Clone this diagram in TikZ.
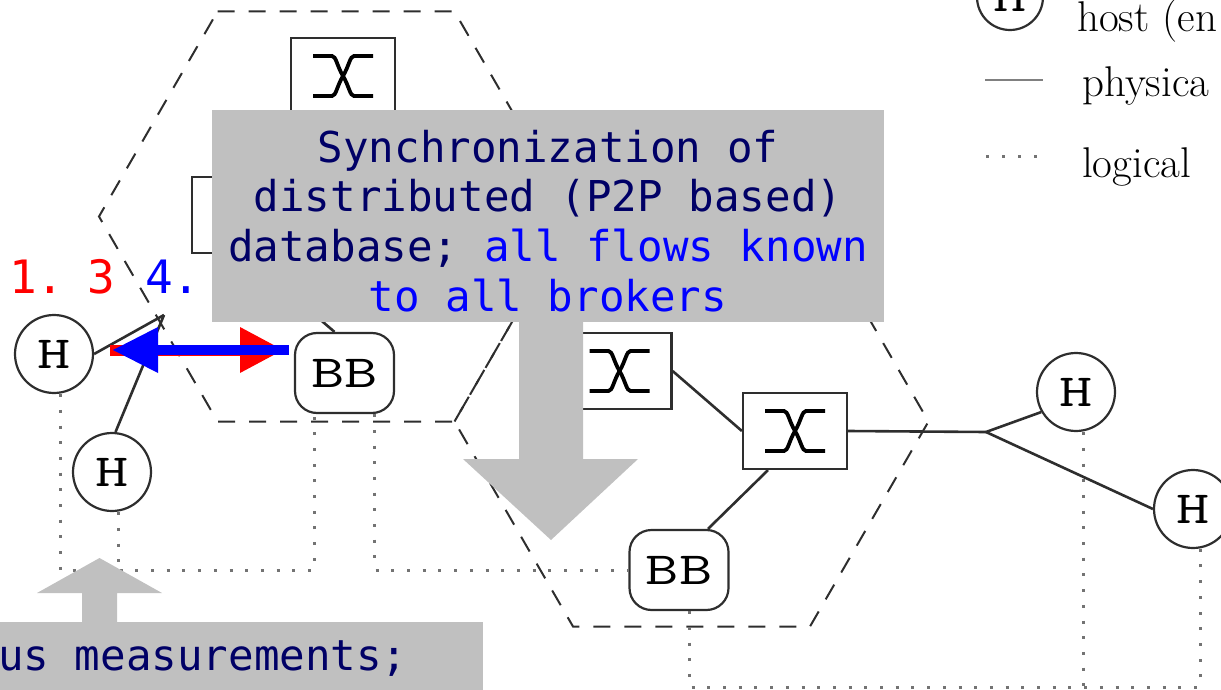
\documentclass[tikz,border=0pt]{standalone}
\usepackage{fontspec}
\usepackage{graphicx}
\newfontfamily\callfont{DejaVu Sans Mono}
\usetikzlibrary{calc}
\definecolor{calloutgray}{HTML}{C0C0C0}
\definecolor{navytext}{HTML}{000066}
\definecolor{netline}{gray}{0.18}
\definecolor{logline}{gray}{0.45}
% wide typewriter lettering used inside the network symbols
\newcommand{\widett}[1]{\scalebox{1.4}[1]{#1}}

\begin{document}
\begin{tikzpicture}[x=1pt,y=-1pt,
  hexedge/.style={draw=netline, line width=2pt, dash pattern=on 17pt off 14pt},
  physical/.style={draw=netline, line width=2.6pt},
  logical/.style={draw=logline, line width=3pt, dash pattern=on 3pt off 12.7pt},
  host/.style={circle, draw=netline, line width=2.2pt, fill=white, minimum size=78pt,
    inner sep=0pt, font=\ttfamily\fontsize{46}{46}\selectfont},
  broker/.style={rectangle, rounded corners=22pt, draw=netline, line width=2.2pt, fill=white,
    minimum width=99pt, minimum height=80pt, inner sep=0pt, font=\ttfamily\fontsize{46}{46}\selectfont},
  switchbox/.style={rectangle, draw=netline, line width=2.2pt, fill=white,
    minimum width=104pt, minimum height=76pt, inner sep=0pt},
  xstroke/.style={draw=black, line width=3.8pt},
  xmark/.pic={
    \draw[xstroke] (-30,-20) -- (-11,-20) .. controls (-7,-20) and (-6,-10) .. (0,0)
      .. controls (6,10) and (7,20) .. (11,20) -- (30,20);
    \draw[xstroke] (30,-20) -- (11,-20) .. controls (7,-20) and (6,-10) .. (0,0)
      .. controls (-6,10) and (-7,20) .. (-11,20) -- (-30,20);
  },
  callout/.style={fill=calloutgray, inner sep=0pt},
  calltext/.style={inner sep=0pt, anchor=base, text=navytext,
    font=\callfont\fontsize{42.5}{50}\selectfont},
  steplabel/.style={inner sep=0pt, anchor=base west,
    font=\callfont\fontsize{46}{46}\selectfont},
  legendtext/.style={inner sep=0pt, anchor=base west, font=\fontsize{43}{50}\selectfont},
]
\useasboundingbox (0,0) rectangle (1221,690);
\clip (0,0) rectangle (1221,690);

% network domains (honeycomb of dashed hexagons)
\draw[hexedge] (217.5,11.5) -- (454.5,11.5) -- (573,216.5) -- (454.5,421.5)
  -- (217.5,421.5) -- (99,216.5) -- cycle;
\draw[hexedge] (454.5,421.5) -- (573,216.5) -- (810,216.5) -- (928.5,421.5)
  -- (810,626.5) -- (573,626.5) -- cycle;

% switches
\node[switchbox] (s0) at (244,215) {};
\node[switchbox] (stop) at (343,76) {};
\node[switchbox] (smid) at (619.5,371) {};
\node[switchbox] (sright) at (795,431) {};
\pic at (s0) {xmark};
\pic at (stop) {xmark};
\pic at (smid) {xmark};
\pic at (sright) {xmark};

% bandwidth brokers
\node[broker] (b1) at (344.5,373) {\widett{BB}};
\node[broker] (b2) at (679,570) {\widett{BB}};

% hosts
\node[host] (h1) at (54,354) {\widett{H}};
\node[host] (h2) at (112,472) {\widett{H}};
\node[host] (h3) at (1076,392) {\widett{H}};
\node[host] (h4) at (1193,509) {\widett{H}};

% junction points of the access links
\coordinate (j1) at (164,315);
\coordinate (j2) at (986,432);

% logical links
\coordinate (lA) at (60,570);
\coordinate (lB) at (314.5,570);
\coordinate (lC) at (118,570);
\coordinate (lD) at (374.5,570);
\coordinate (lE) at (689,687);
\coordinate (lF) at (1200,687);
\coordinate (lG) at (1083,687);
\draw[logical] ([xshift=6pt]h1.south) -- (lA) -- (lB) -- ([xshift=-30pt]b1.south);
\draw[logical] ([xshift=6pt]h2.south) -- (lC);
\draw[logical] ([xshift=30pt]b1.south) -- (lD) -- (b2.west);
\draw[logical] ([xshift=10pt]b2.south) -- (lE) -- (lF) -- ([xshift=7pt]h4.south);
\draw[logical] ([xshift=7pt]h3.south) -- (lG);

% physical links
\draw[physical] (h1.east) -- (j1);
\draw[physical] (h2.85) -- (j1);
\draw[physical] (s0.south) -- ([xshift=-10pt]b1.north);
\draw[physical] (smid.east) -- (sright.west);
\draw[physical] ([xshift=-27pt]sright.south) -- ([xshift=29pt]b2.north);
\draw[physical] (sright.east) -- (j2);
\draw[physical] (j2) -- (h3.210);
\draw[physical] (j2) -- (h4.west);

% synchronisation callout with its arrow
\node[callout, minimum width=672pt, minimum height=212pt] (syncbox) at (548,216) {};
\fill[calloutgray] (519,321) -- (519,459) -- (463,459) -- (551,540) -- (638,459)
  -- (583,459) -- (583,321) -- cycle;
\node[calltext] (t1) at (548,162) {Synchronization of};
\node[calltext] (t2) at (548,211) {distributed (P2P based)};
\node[calltext] (t3) at (548,261) {database; \textcolor{blue}{all flows known}};
\node[calltext, text=blue] (t4) at (548,311) {to all brokers};

% measurement callout with its arrow
\node[callout, minimum width=490pt, minimum height=80pt, anchor=north west] (measbox) at (-7,622) {};
\fill[calloutgray] (82,623) -- (82,593) -- (37,593) -- (99.5,558) -- (162,593)
  -- (117,593) -- (117,623) -- cycle;
\node[calltext, anchor=base west] (t5) at (-2,670) {us measurements;};

% step labels
\node[steplabel, text=red] (n1) at (9,293) {1.};
\node[steplabel, text=red] (n3) at (87,293) {3};
\node[steplabel, text=blue] (n4) at (145,293) {4.};

% request / answer arrows between host and broker
\fill[red] (110,344.5) rectangle (240,355.5);
\fill[red] (240,327) -- (283,350) -- (240,373) -- cycle;
\fill[blue] (158,345) rectangle (289,355);
\fill[blue] (113,350) -- (158,327) -- (158,373) -- cycle;

% legend
\node[host, minimum size=66pt] (lhost) at (1010,-3) {\widett{H}};
\node[legendtext] (lt1) at (1077,32) {host (en};
\coordinate (lp1) at (985,80);
\coordinate (lp2) at (1043,80);
\draw[physical, draw=gray, line width=2pt] (lp1) -- (lp2);
\node[legendtext] (lt2) at (1082,97) {physica};
\coordinate (ll1) at (986,157);
\coordinate (ll2) at (1043,157);
\draw[logical, dash pattern=on 3pt off 13pt] (ll1) -- (ll2);
\node[legendtext] (lt3) at (1082,177) {logical};
\end{tikzpicture}
\end{document}
